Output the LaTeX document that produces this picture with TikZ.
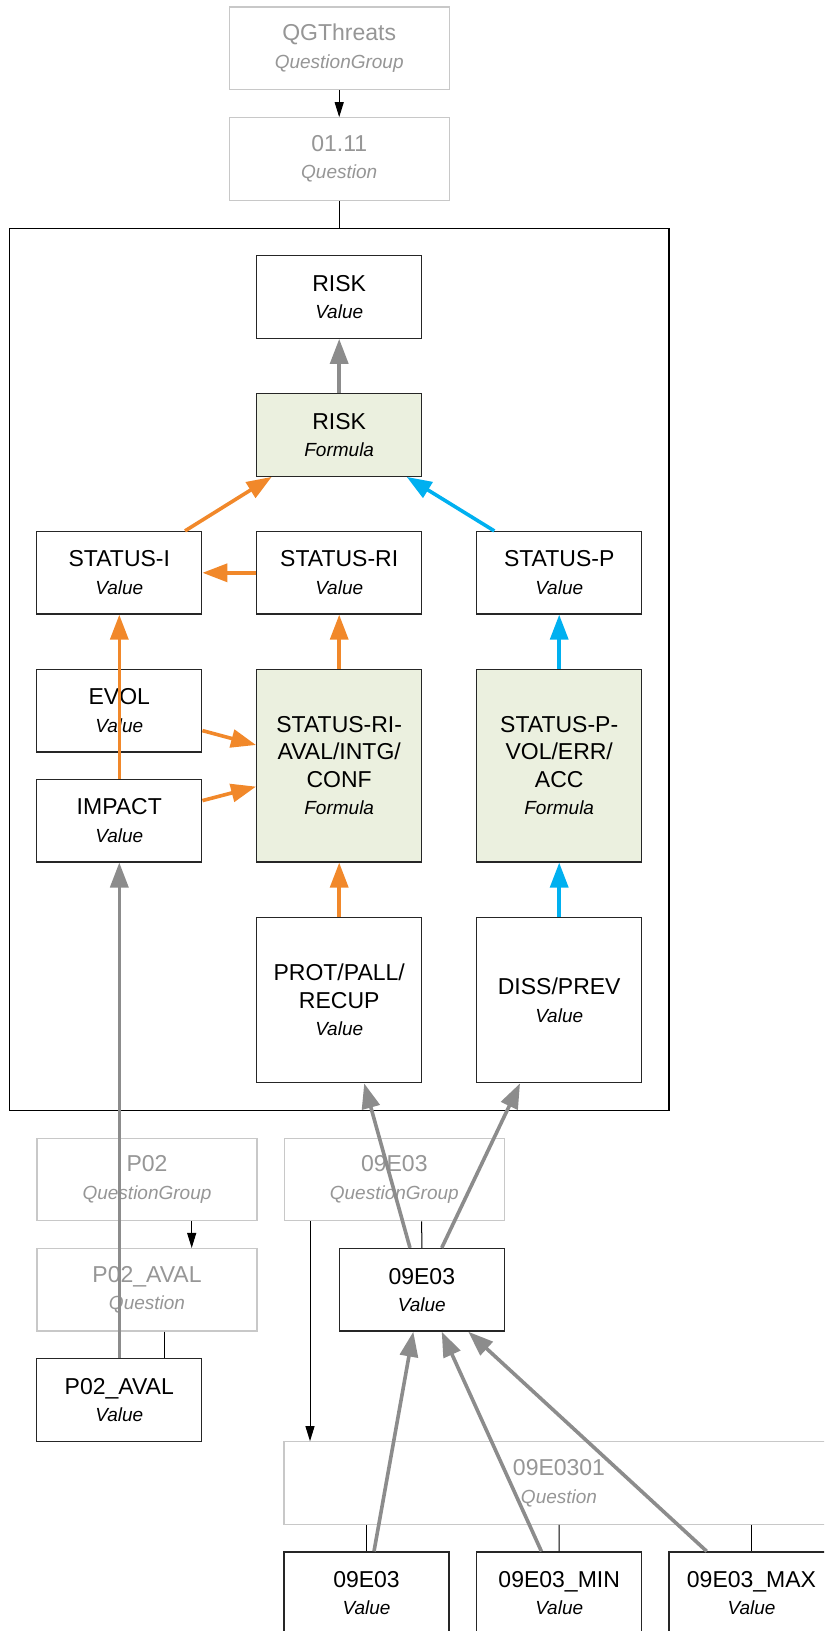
\documentclass[tikz,border=0pt]{standalone}
\usepackage{fontspec}
\setmainfont{Liberation Sans}
\usetikzlibrary{arrows.meta}

\definecolor{flowor}{RGB}{241,136,42}
\definecolor{flowbl}{RGB}{0,176,240}
\definecolor{flowgr}{RGB}{140,140,140}
\definecolor{ghostln}{RGB}{200,200,200}
\definecolor{ghosttx}{RGB}{150,150,150}
\definecolor{formfill}{RGB}{235,240,223}

\newcommand{\mainf}{\fontsize{11.5}{13.75}\selectfont}
\newcommand{\subf}{\fontsize{9.5}{13.75}\selectfont\itshape}

\begin{document}
\begin{tikzpicture}[x=0.5pt,y=-0.5pt,
  box/.style={draw=black!85, line width=0.65pt, fill=white, inner sep=0pt,
    align=center, font=\mainf, minimum width=82.5pt, minimum height=41.25pt},
  formbox/.style={box, fill=formfill},
  tallbox/.style={minimum height=96.35pt},
  squarebox/.style={minimum height=82.5pt},
  ghost/.style={draw=ghostln, line width=0.6pt, fill=white, text=ghosttx,
    inner sep=0pt, align=center, font=\mainf, minimum width=110pt,
    minimum height=41.25pt},
  group/.style={draw=black, line width=0.65pt, inner sep=0pt,
    minimum width=329.85pt, minimum height=441.2pt},
  link/.style={line width=0.5pt, draw=black},
  thinarrow/.style={link, -{Triangle[length=7.5pt,width=4.5pt]}},
  flow/.style={line width=1.8pt, -{Triangle[length=12.5pt,width=9pt]}},
  orflow/.style={flow, draw=flowor, fill=flowor},
  blflow/.style={flow, draw=flowbl, fill=flowbl},
  grflow/.style={flow, draw=flowgr, fill=flowgr}
]
\useasboundingbox (0,0) rectangle (824,1631);
\clip (0,0) rectangle (824,1631);

% enclosing group
\node[group] (grp) at (339.2,669.5) {};

% question hierarchy at the top
\node[ghost] (qg) at (339.2,48.3) {QGThreats\\{\subf QuestionGroup}};
\node[ghost] (q0111) at (339.2,159) {01.11\\{\subf Question}};

% computation nodes inside the group
\node[box] (riskv) at (339.2,297) {RISK\\{\subf Value}};
\node[formbox] (riskf) at (339.2,435) {RISK\\{\subf Formula}};
\node[box] (stI) at (119.3,572.8) {STATUS-I\\{\subf Value}};
\node[box] (stRI) at (339.2,572.8) {STATUS-RI\\{\subf Value}};
\node[box] (stP) at (559.2,572.8) {STATUS-P\\{\subf Value}};
\node[box] (evol) at (119.3,710.6) {EVOL\\{\subf Value}};
\node[box] (impact) at (119.3,820.6) {IMPACT\\{\subf Value}};
\node[formbox,tallbox] (fRI) at (339.2,765.6) {STATUS-RI-\\AVAL/INTG/\\CONF\\{\subf Formula}};
\node[formbox,tallbox] (fP) at (559.2,765.6) {STATUS-P-\\VOL/ERR/\\ACC\\{\subf Formula}};
\node[box,squarebox] (prot) at (339.2,1000.2) {PROT/PALL/\\RECUP\\{\subf Value}};
\node[box,squarebox] (diss) at (559.2,1000.2) {DISS/PREV\\{\subf Value}};

% source questions below the group
\node[ghost] (p02) at (147,1179.5) {P02\\{\subf QuestionGroup}};
\node[ghost] (p02q) at (147,1289.8) {P02\_AVAL\\{\subf Question}};
\node[box] (p02v) at (119.3,1400) {P02\_AVAL\\{\subf Value}};
\node[ghost] (e03g) at (394.3,1179.5) {09E03\\{\subf QuestionGroup}};
\node[box] (e03v) at (421.8,1289.8) {09E03\\{\subf Value}};
\node[ghost, minimum width=275pt] (e0301) at (559,1483) {09E0301\\{\subf Question}};
\node[box] (b1) at (366.5,1593.2) {09E03\\{\subf Value}};
\node[box] (b2) at (559.2,1593.2) {09E03\_MIN\\{\subf Value}};
\node[box] (b3) at (751.5,1593.2) {09E03\_MAX\\{\subf Value}};

% structural links
\draw[thinarrow] (qg.south) -- (q0111.north);
\draw[link] (q0111.south) -- (grp.north);
\draw[thinarrow] ([xshift=22.35pt]p02.south) -- ([xshift=22.35pt]p02q.north);
\draw[link] ([xshift=8.5pt]p02q.south) -- ([xshift=22.35pt]p02v.north);
\draw[link] ([xshift=13.7pt]e03g.south) -- (e03v.north);
\draw[thinarrow] ([xshift=-42.15pt]e03g.south) -- ([xshift=-124.5pt]e0301.north);
\draw[link] ([xshift=-96.25pt]e0301.south) -- (b1.north);
\draw[link] (e0301.south) -- (b2.north);
\draw[link] ([xshift=96.25pt]e0301.south) -- (b3.north);

% data flow
\draw[grflow] (riskf.north) -- (riskv.south);
\draw[orflow] ([xshift=32.85pt]stI.north) -- ([xshift=-33.75pt]riskf.south);
\draw[blflow] ([xshift=-32.45pt]stP.north) -- ([xshift=33.75pt]riskf.south);
\draw[orflow] (stRI.west) -- (stI.east);
\draw[orflow] (fRI.north) -- (stRI.south);
\draw[blflow] (fP.north) -- (stP.south);
\draw[orflow] (impact.north) -- (stI.south);
\draw[orflow] ([yshift=-10pt]evol.east) -- ([yshift=10.3pt]fRI.west);
\draw[orflow] ([yshift=10pt]impact.east) -- ([yshift=-10.5pt]fRI.west);
\draw[orflow] (prot.north) -- (fRI.south);
\draw[blflow] (diss.north) -- (fP.south);
\draw[grflow] (p02v.north) -- (impact.south);
\draw[grflow] ([xshift=-5.9pt]e03v.north) -- ([xshift=12.5pt]prot.south);
\draw[grflow] ([xshift=9.95pt]e03v.north) -- ([xshift=-19.6pt]diss.south);
\draw[grflow] ([xshift=3.75pt]b1.north) -- ([xshift=-4.25pt]e03v.south);
\draw[grflow] ([xshift=-8.9pt]b2.north) -- ([xshift=9.95pt]e03v.south);
\draw[grflow] ([xshift=-22.4pt]b3.north) -- ([xshift=23.25pt]e03v.south);
\end{tikzpicture}
\end{document}
